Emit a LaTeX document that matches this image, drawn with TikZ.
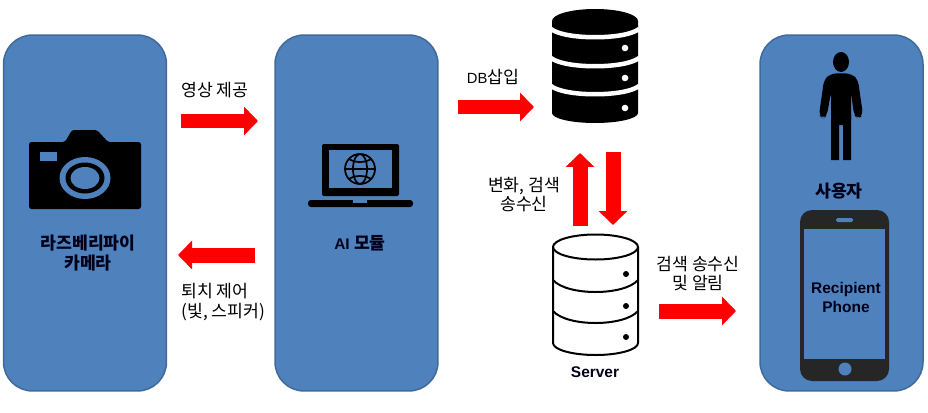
\documentclass[tikz,border=0pt]{standalone}
\usepackage{fontspec}
\setmainfont{Liberation Sans}
\newfontfamily\krfont{Noto Sans CJK KR}
\usetikzlibrary{arrows.meta}
\definecolor{boxblue}{HTML}{4F81BD}
\definecolor{boxedge}{HTML}{3F6A99}
\definecolor{phonegray}{HTML}{262626}
\tikzset{
	panel/.style={draw=boxedge,fill=boxblue,line width=0.03cm,rounded corners=0.58cm,minimum width=3.26cm,minimum height=7.12cm,inner sep=0pt},
	redarrow/.style={draw=red,line width=0.3cm,-{Triangle[length=0.28cm,width=0.56cm]}},
	lbl/.style={font=\fontsize{9.8}{11.2}\selectfont\krfont,align=center,inner sep=0pt},
	boldlbl/.style={font=\fontsize{8.8}{11.2}\selectfont\bfseries,align=center,inner sep=0pt,text=black!90!blue},
	krbold/.style={font=\fontsize{9.8}{11.3}\selectfont\krfont\bfseries,align=center,inner sep=0pt,text=black!90!blue},
	globeline/.style={draw=black,line width=0.035cm},
}
\begin{document}
\begin{tikzpicture}[x=0.02cm,y=-0.02cm]
			\useasboundingbox (0,0) rectangle (928,412);
			\node[panel] (camerabox) at (85,213) {};
			\node[panel] (aibox) at (356.5,213) {};
			\node[panel] (userbox) at (841.5,213) {};

			\coordinate (A1) at (181,121);
			\coordinate (A2) at (258,121);
			\coordinate (B1) at (255,255);
			\coordinate (B2) at (178,255);
			\coordinate (C1) at (458,107);
			\coordinate (C2) at (534,107);
			\coordinate (D1) at (580,226);
			\coordinate (D2) at (580,153);
			\coordinate (E1) at (613,152);
			\coordinate (E2) at (613,225);
			\coordinate (F1) at (659,311);
			\coordinate (F2) at (736,311);
			\draw[redarrow] (A1)--(A2);
			\draw[redarrow] (B1)--(B2);
			\draw[redarrow] (C1)--(C2);
			\draw[redarrow] (D1)--(D2);
			\draw[redarrow] (E1)--(E2);
			\draw[redarrow] (F1)--(F2);

			\fill[black,rounded corners=0.05cm] (29,142) -- (65,142) -- (72,130) -- (97,130) -- (108,142) -- (141,142) -- (141,209) -- (29,209) -- cycle;
			\fill[boxblue] (40,152) rectangle (57,161);
			\fill[boxblue] (85,178) ellipse [x radius=25.5,y radius=21];
			\fill[black] (85,178) ellipse [x radius=19.5,y radius=15.5];
			\fill[boxblue] (85,178) ellipse [x radius=14.5,y radius=11];

			\fill[black,rounded corners=0.04cm] (322,196) -- (322,144) -- (399,144) -- (399,196) -- cycle;
			\fill[boxblue] (329,150) rectangle (392,188);
			\fill[black,rounded corners=0.06cm] (308,200) -- (413,200) -- (413,207) -- (308,207) -- cycle;
			\fill[boxblue] (353,200) rectangle (367,202.5);
			\draw[globeline] (360,169) circle [radius=15];
			\draw[globeline] (360,169) ellipse [x radius=7,y radius=15];
			\draw[globeline] (345,169) -- (375,169);
			\draw[globeline] (349,159) .. controls (355,163) and (365,163) .. (371,159);
			\draw[globeline] (349,179) .. controls (355,175) and (365,175) .. (371,179);

			\fill[black] (552,21) arc [start angle=180,end angle=360,x radius=43,y radius=12] -- (638,113) arc [start angle=0,end angle=180,x radius=43,y radius=10] -- cycle;
			\draw[white,line width=0.09cm] (551,29) .. controls (565,40) and (625,40) .. (639,29);
			\draw[white,line width=0.09cm] (551,58) .. controls (565,69) and (625,69) .. (639,58);
			\draw[white,line width=0.09cm] (551,86) .. controls (565,97) and (625,97) .. (639,86);
			\foreach \y in {48,78,108}
				\fill[white] (625,\y) circle [radius=3.3];

			\draw[black,line width=0.04cm] (553,247) -- (553,343) arc [start angle=180,end angle=0,x radius=42.5,y radius=12] -- (638,247);
			\draw[black,line width=0.04cm] (595.5,247) ellipse [x radius=42.5,y radius=12.5];
			\draw[black,line width=0.04cm] (553,280) .. controls (567,296) and (624,296) .. (638,280);
			\draw[black,line width=0.04cm] (553,311) .. controls (567,327) and (624,327) .. (638,311);
			\foreach \y in {274,306,337}
				\fill[black] (626,\y) circle [radius=3];

			\fill[black] (841,62) ellipse [x radius=8,y radius=10];
			\fill[black,rounded corners=0.1cm] (841,73) -- (852,74) -- (858,80) -- (863,115) -- (858,119) -- (854,115) -- (851,92) -- (851,125) -- (831,125) -- (831,92) -- (827,115) -- (823,119) -- (819,115) -- (824,80) -- (830,74) -- cycle;
			\fill[black] (831,115) -- (851,115) -- (851,160) -- (843,160) -- (843,116) -- (839,116) -- (839,160) -- (831,160) -- cycle;

			\fill[phonegray,rounded corners=0.24cm] (800,210) rectangle (889,381);
			\fill[boxblue] (804,229) rectangle (885,359);
			\fill[boxblue,rounded corners=0.03cm] (836,218) rectangle (853,222);
			\fill[boxblue] (845,369) circle [radius=6.5];

			\node[krbold] (cameralabel) at (88,253) {라즈베리파이\\카메라};
			\node[boldlbl] (ailabel) at (360,243) {AI {\krfont\fontsize{9.8}{11.2}\selectfont 모듈}};
			\node[krbold] (userlabel) at (839,191) {사용자};
			\node[boldlbl] (phonelabel) at (846,297.5) {Recipient\\Phone};
			\node[boldlbl] (serverlabel) at (595,372) {Server};
			\node[lbl] (videolabel) at (215,90) {영상 제공};
			\node[lbl,align=left,anchor=west] (controllabel) at (181,302) {퇴치 제어\\(빛, 스피커)};
			\node[lbl] (dblabel) at (493,77) {{\rmfamily\fontsize{8.4}{11.2}\selectfont DB}삽입};
			\node[lbl] (searchlabel) at (524,194.5) {변화, 검색\\송수신};
			\node[lbl] (notifylabel) at (698,273.5) {검색 송수신\\및 알림};
		\end{tikzpicture}
\end{document}
